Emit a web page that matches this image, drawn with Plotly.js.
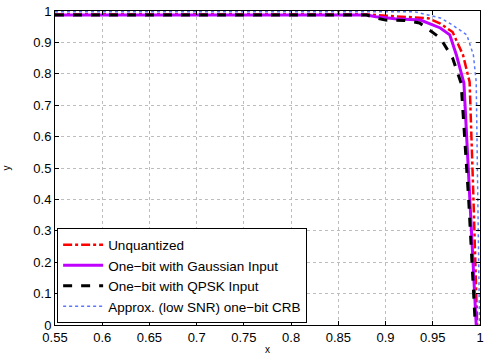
<!DOCTYPE html>
<html>
<head>
<meta charset="utf-8">
<script src="https://cdn.plot.ly/plotly-3.0.1.min.js"></script>
<style>
  html, body { margin: 0; padding: 0; background: #fff; }
  #chart { width: 491px; height: 357px; }
</style>
</head>
<body>
<div id="chart"></div>
<script>
// values
const unquantX = [0.55, 0.88, 0.9, 0.93, 0.945, 0.958, 0.971, 0.982, 0.989, 0.993, 0.997];
const unquantY = [0.99, 0.99, 0.985, 0.98, 0.977, 0.96, 0.933, 0.86, 0.774, 0.41, 0.0];

const gaussX = [0.55, 0.88, 0.89, 0.91, 0.937, 0.958, 0.968, 0.975, 0.983, 0.989, 0.996];
const gaussY = [0.987, 0.987, 0.982, 0.975, 0.971, 0.946, 0.924, 0.86, 0.77, 0.4, 0.0];

const qpskX = [0.55, 0.88, 0.89, 0.9, 0.92, 0.93, 0.936, 0.958, 0.971, 0.98, 0.988, 0.995];
const qpskY = [0.987, 0.987, 0.978, 0.971, 0.97, 0.965, 0.962, 0.914, 0.85, 0.77, 0.4, 0.0];

const approxX = [0.55, 0.93, 0.958, 0.971, 0.986, 0.993, 0.996, 0.998, 0.9995];
const approxY = [0.998, 0.998, 0.978, 0.955, 0.924, 0.86, 0.774, 0.37, 0.0];

const seriesNames = [
  'Unquantized',
  'One\u2212bit with Gaussian Input',
  'One\u2212bit with QPSK Input',
  'Approx. (low SNR) one\u2212bit CRB'
];

const xTicks = [0.55, 0.6, 0.65, 0.7, 0.75, 0.8, 0.85, 0.9, 0.95, 1];
const xTickText = ['0.55', '0.6', '0.65', '0.7', '0.75', '0.8', '0.85', '0.9', '0.95', '1'];
const yTicks = [0, 0.1, 0.2, 0.3, 0.4, 0.5, 0.6, 0.7, 0.8, 0.9, 1];
const yTickText = ['0', '0.1', '0.2', '0.3', '0.4', '0.5', '0.6', '0.7', '0.8', '0.9', '1'];

const traces = [
  { x: unquantX, y: unquantY, name: seriesNames[0], mode: 'lines',
    line: { color: '#ff0000', width: 2.5, dash: 'dashdot' } },
  { x: gaussX, y: gaussY, name: seriesNames[1], mode: 'lines',
    line: { color: '#bf00ff', width: 3 } },
  { x: qpskX, y: qpskY, name: seriesNames[2], mode: 'lines',
    line: { color: '#000000', width: 3, dash: 'dash' } },
  { x: approxX, y: approxY, name: seriesNames[3], mode: 'lines',
    line: { color: '#5a78ff', width: 1.5, dash: 'dot' } }
];

const axisCommon = {
  showline: true,
  mirror: 'ticks',
  linecolor: '#000',
  linewidth: 1,
  ticks: 'inside',
  ticklen: 4,
  tickcolor: '#000',
  showgrid: true,
  gridcolor: '#bdbdbd',
  griddash: 'dot',
  gridwidth: 1,
  zeroline: false,
  tickfont: { family: 'Liberation Sans, Arial, sans-serif', size: 13, color: '#000' }
};

const layout = {
  width: 491,
  height: 357,
  margin: { l: 55, r: 11, t: 11, b: 32 },
  paper_bgcolor: '#fff',
  plot_bgcolor: '#fff',
  font: { family: 'Liberation Sans, Arial, sans-serif', color: '#000' },
  xaxis: Object.assign({}, axisCommon, {
    range: [0.55, 1],
    tickmode: 'array',
    tickvals: xTicks,
    ticktext: xTickText,
    title: { text: 'x', font: { size: 10 }, standoff: 2 }
  }),
  yaxis: Object.assign({}, axisCommon, {
    range: [0, 1],
    tickmode: 'array',
    tickvals: yTicks,
    ticktext: yTickText,
    title: { text: 'y', font: { size: 10 }, standoff: 20 }
  }),
  showlegend: true,
  legend: {
    x: 0.005,
    y: 0.005,
    xanchor: 'left',
    yanchor: 'bottom',
    bgcolor: '#fff',
    bordercolor: '#000',
    borderwidth: 1,
    font: { size: 13.5, color: '#000' },
    tracegroupgap: 0,
    itemwidth: 40
  }
};

Plotly.newPlot('chart', traces, layout, { displayModeBar: false, staticPlot: true });
</script>
</body>
</html>
